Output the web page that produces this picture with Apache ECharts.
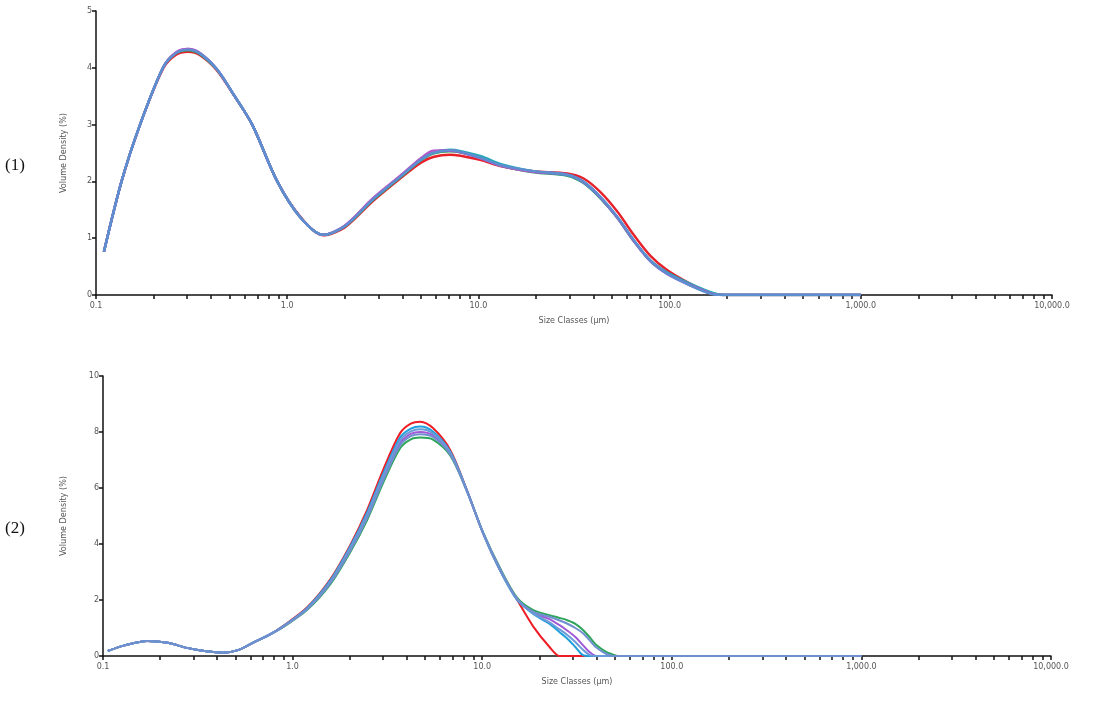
<!DOCTYPE html>
<html>
<head>
<meta charset="utf-8">
<script src="https://cdn.jsdelivr.net/npm/echarts@6/dist/echarts.min.js"></script>
<style>
html,body{margin:0;padding:0;background:#fff;}
#chart{width:1099px;height:703px;}
</style>
</head>
<body>
<div id="chart"></div>
<script>
// ---------- Data ----------
const xTicksMinor = [0.1,0.2,0.3,0.4,0.5,0.6,0.7,0.8,0.9,1,2,3,4,5,6,7,8,9,10,20,30,40,50,60,70,80,90,100,200,300,400,500,600,700,800,900,1000,2000,3000,4000,5000,6000,7000,8000,9000,10000];
const xLabelValues = [0.1,1,10,100,1000,10000];

// Chart (1): size classes (µm)
const sizes1 = [0.11,0.136,0.17,0.224,0.26,0.303,0.35,0.43,0.52,0.656,0.887,1.17,1.54,2.0,2.8,3.9,5.0,5.8,7.1,10.2,13,19.4,29.2,35.5,43.5,53.5,64.9,79.4,97,128,164,190,300,1000];
const c1Red     = [0.76,2.0,3.0,3.98,4.22,4.28,4.22,3.95,3.54,3.0,2.0,1.38,1.05,1.19,1.65,2.05,2.33,2.43,2.47,2.38,2.27,2.18,2.14,2.05,1.81,1.46,1.06,0.69,0.44,0.2,0.03,0,0,0];
const c1Green   = [0.76,2.0,3.0,4.0,4.25,4.31,4.24,3.96,3.55,3.0,2.0,1.37,1.06,1.21,1.67,2.07,2.37,2.49,2.53,2.43,2.28,2.16,2.1,1.97,1.7,1.35,0.95,0.6,0.39,0.19,0.04,0,0,0];
const c1Purple  = [0.76,2.0,3.0,4.0,4.26,4.33,4.25,3.97,3.55,3.0,2.0,1.37,1.06,1.22,1.69,2.09,2.4,2.52,2.54,2.41,2.28,2.17,2.11,1.98,1.71,1.35,0.95,0.59,0.37,0.17,0.03,0,0,0];
const c1Teal    = [0.76,2.0,3.0,4.0,4.25,4.32,4.25,3.97,3.55,3.0,2.0,1.37,1.06,1.21,1.68,2.08,2.38,2.51,2.56,2.45,2.31,2.18,2.11,1.98,1.71,1.36,0.96,0.61,0.4,0.2,0.05,0,0,0];
const c1Magenta = [0.76,2.0,3.0,4.0,4.26,4.33,4.26,3.97,3.55,3.0,2.0,1.37,1.06,1.22,1.7,2.1,2.41,2.54,2.55,2.41,2.28,2.17,2.12,1.99,1.72,1.36,0.96,0.6,0.38,0.18,0.03,0,0,0];
const c1Blue    = [0.76,2.0,3.0,4.0,4.25,4.32,4.25,3.97,3.55,3.0,2.0,1.37,1.06,1.21,1.68,2.08,2.38,2.5,2.55,2.42,2.29,2.18,2.12,2.0,1.73,1.37,0.97,0.6,0.38,0.17,0.02,0,0,0];

// Chart (2): size classes (µm)
const sizes2 = [0.106,0.13,0.171,0.22,0.277,0.35,0.43,0.52,0.62,0.75,0.89,1.19,1.58,2.01,2.47,3.0,3.69,4.2,4.71,5.5,6.78,8.3,10.1,12.4,15.3,18.6,22.6,25.6,27.8,31,34,37,40,45,49,52,60,100,300,1000];
const c2Red      = [0.18,0.38,0.54,0.47,0.29,0.17,0.12,0.22,0.48,0.75,1.07,1.73,2.74,3.95,5.21,6.64,7.96,8.3,8.37,8.14,7.36,5.93,4.39,3.07,2.0,1.05,0.33,0,0,0,0,0,0,0,0,0,0,0,0,0];
const c2Cyan     = [0.18,0.38,0.54,0.47,0.29,0.17,0.12,0.22,0.48,0.75,1.06,1.71,2.7,3.9,5.12,6.5,7.8,8.12,8.2,8.02,7.3,5.92,4.39,3.07,2.0,1.5,1.15,0.85,0.65,0.32,0.03,0,0,0,0,0,0,0,0,0];
const c2Blue     = [0.18,0.38,0.54,0.47,0.29,0.17,0.12,0.22,0.48,0.75,1.05,1.69,2.66,3.85,5.05,6.42,7.7,8.02,8.1,7.95,7.27,5.91,4.39,3.08,2.0,1.52,1.2,0.95,0.78,0.5,0.22,0.03,0,0,0,0,0,0,0,0];
const c2Purple   = [0.18,0.38,0.54,0.47,0.29,0.17,0.12,0.22,0.48,0.75,1.05,1.68,2.63,3.8,4.98,6.33,7.6,7.93,8.0,7.88,7.24,5.9,4.4,3.1,2.02,1.55,1.32,1.1,0.93,0.68,0.39,0.13,0,0,0,0,0,0,0,0];
const c2Lavender = [0.18,0.38,0.54,0.47,0.29,0.17,0.12,0.22,0.48,0.75,1.04,1.66,2.6,3.75,4.92,6.26,7.52,7.85,7.92,7.82,7.2,5.9,4.41,3.12,2.04,1.58,1.4,1.27,1.17,1.0,0.81,0.55,0.3,0.08,0,0,0,0,0,0];
const c2Green    = [0.18,0.38,0.54,0.47,0.29,0.17,0.12,0.22,0.48,0.75,1.03,1.64,2.56,3.7,4.85,6.18,7.42,7.74,7.8,7.73,7.16,5.89,4.42,3.15,2.08,1.64,1.46,1.36,1.29,1.15,0.93,0.66,0.39,0.15,0.05,0,0,0,0,0];

// ---------- Build ----------
function pairs(xs, ys){ return xs.map((x,i)=>[x, ys[i]]); }
function fmtX(v){
  return Number(v).toLocaleString('en-US',{minimumFractionDigits:1,maximumFractionDigits:1});
}
const axisCol = '#111';
function makeX(gridIndex){
  return {
    type:'log', logBase:10, gridIndex, min:0.1, max:10000,
    name:'Size Classes (\u03bcm)', nameLocation:'middle', nameGap:22,
    nameTextStyle:{fontFamily:'DejaVu Sans', fontSize:8, color:'#555'},
    axisLine:{show:true, onZero:false, lineStyle:{color:axisCol, width:1.5}},
    axisTick:{show:true, inside:false, length:4, customValues:xTicksMinor, lineStyle:{color:axisCol, width:1.5}},
    minorTick:{show:false},
    splitLine:{show:false},
    axisLabel:{customValues:xLabelValues, formatter:fmtX, fontFamily:'DejaVu Sans', fontSize:8, color:'#555', margin:7}
  };
}
function makeY(gridIndex, max, interval, gap){
  return {
    type:'value', gridIndex, min:0, max, interval,
    name:'Volume Density (%)', nameLocation:'middle', nameGap:gap, nameRotate:90,
    nameTextStyle:{fontFamily:'Liberation Sans Narrow, DejaVu Sans Condensed, sans-serif', fontSize:9, color:'#555'},
    axisLine:{show:true, lineStyle:{color:axisCol, width:1.5}},
    axisTick:{show:true, length:4, lineStyle:{color:axisCol, width:1.5}},
    splitLine:{show:false},
    axisLabel:{fontFamily:'DejaVu Sans', fontSize:8, color:'#555', margin:4}
  };
}
function line(name, xs, ys, color, idx, w){
  return {
    name, type:'line', xAxisIndex:idx, yAxisIndex:idx,
    data:pairs(xs, ys), smooth:0.3, showSymbol:false, symbol:'none',
    lineStyle:{color, width:w}, itemStyle:{color}, animation:false
  };
}

const option = {
  backgroundColor:'#fff',
  animation:false,
  grid:[
    {left:96, top:11, width:956, height:284},
    {left:103, top:376, width:948, height:280}
  ],
  xAxis:[makeX(0), makeX(1)],
  yAxis:[makeY(0,5,1,28), makeY(1,10,2,35)],
  graphic:[
    {type:'text', left:5, top:157, style:{text:'(1)', font:'17px "Liberation Serif", "DejaVu Serif", serif', fill:'#111'}},
    {type:'text', left:5, top:520, style:{text:'(2)', font:'17px "Liberation Serif", "DejaVu Serif", serif', fill:'#111'}}
  ],
  series:[
    line('Red 1', sizes1, c1Red, '#e8202a', 0, 2.4),
    line('Green 1', sizes1, c1Green, '#2ea55a', 0, 2.4),
    line('Purple 1', sizes1, c1Purple, '#8a5fd0', 0, 2.4),
    line('Teal 1', sizes1, c1Teal, '#22a8b8', 0, 2.4),
    line('Magenta 1', sizes1, c1Magenta, '#b45ac8', 0, 2.4),
    line('Blue 1', sizes1, c1Blue, '#5b8fd0', 0, 2.4),
    line('Red 2', sizes2, c2Red, '#ee1c25', 1, 2),
    line('Green 2', sizes2, c2Green, '#2ea55a', 1, 2),
    line('Purple 2', sizes2, c2Purple, '#a259d6', 1, 2),
    line('Cyan 2', sizes2, c2Cyan, '#1ea0dc', 1, 2),
    line('Blue 2', sizes2, c2Blue, '#6a9ad8', 1, 2),
    line('Lavender 2', sizes2, c2Lavender, '#6f8fcf', 1, 2)
  ]
};
const chart = echarts.init(document.getElementById('chart'), null, {renderer:'canvas'});
chart.setOption(option);
</script>
</body>
</html>
